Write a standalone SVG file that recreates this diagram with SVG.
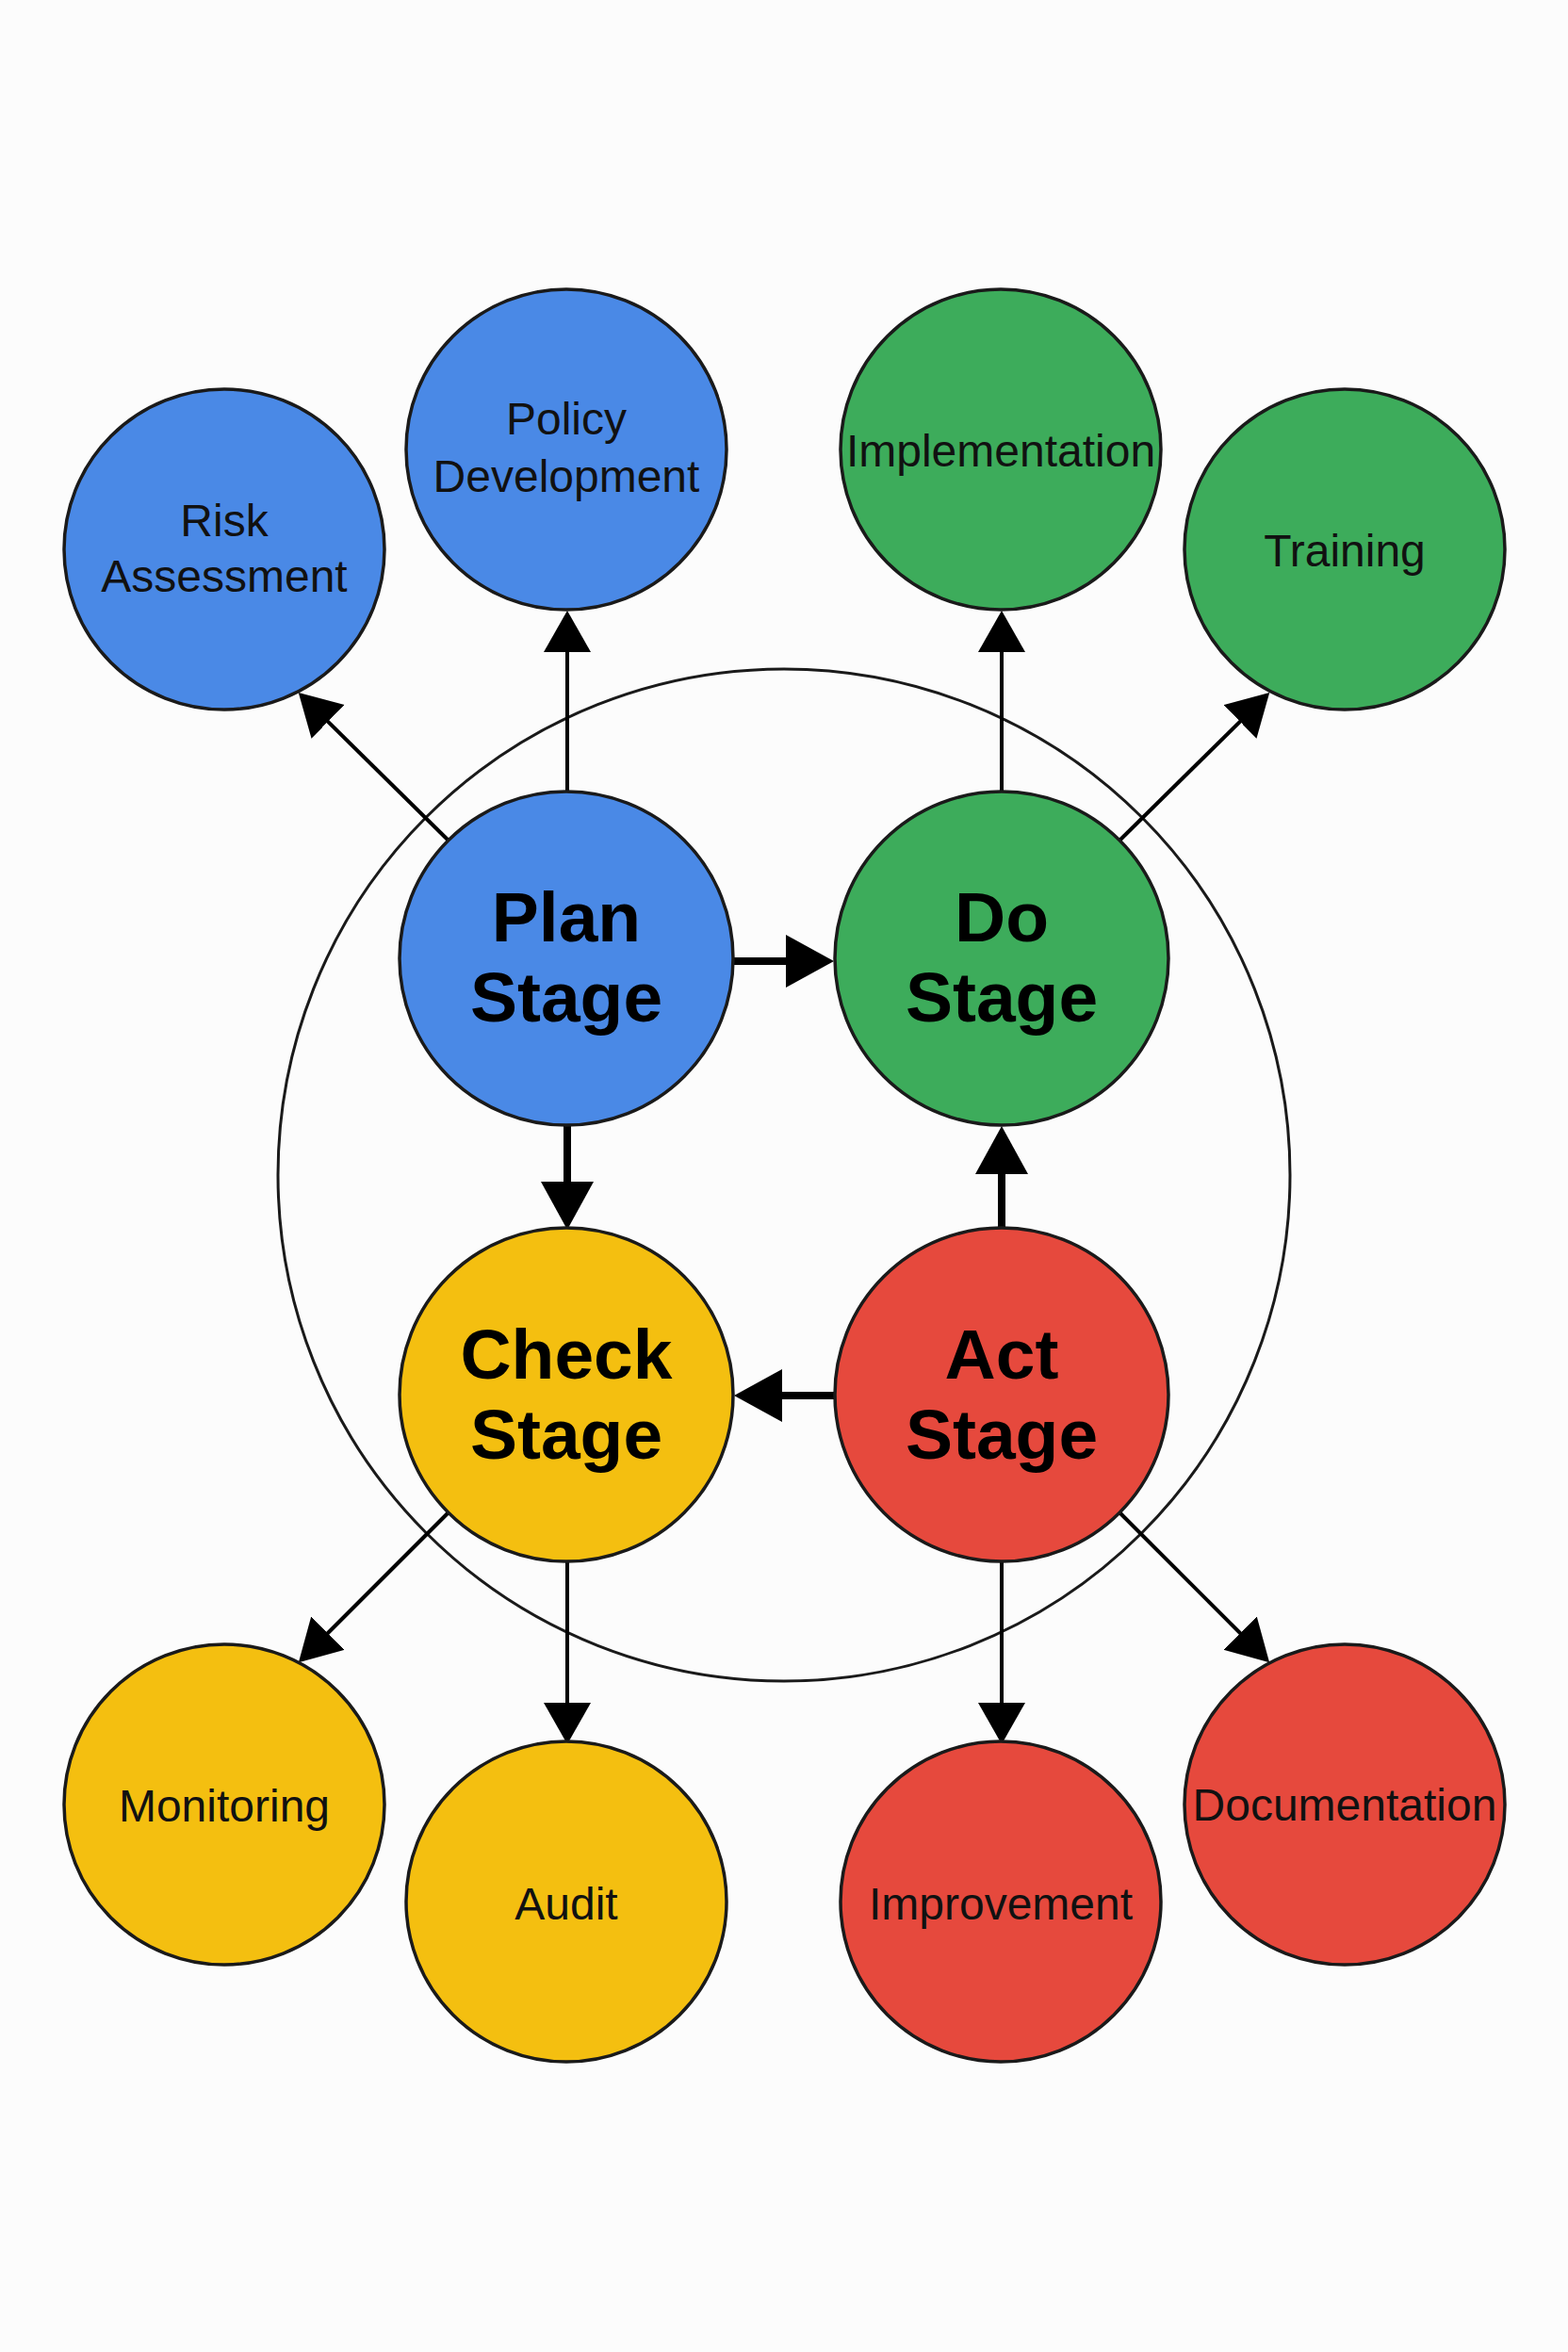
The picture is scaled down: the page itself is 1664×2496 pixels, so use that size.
<svg xmlns="http://www.w3.org/2000/svg" width="1664" height="2496" viewBox="0 0 1664 2496">
  <defs>
    <style>
      .node { stroke: #1a1a1a; stroke-width: 3.5; }
      .plan { fill: #4a89e6; }
      .do { fill: #3dac5b; }
      .check { fill: #f4bf10; }
      .act { fill: #e6493d; }
      .ring { fill: none; stroke: #1a1a1a; stroke-width: 3; }
      .edge { stroke: #000; stroke-width: 4; fill: none; }
      .edge-main { stroke: #000; stroke-width: 8; fill: none; }
      .label { font-family: "Liberation Sans", Arial, sans-serif; font-size: 48px; fill: #111; text-anchor: middle; }
      .stage { font-family: "Liberation Sans", Arial, sans-serif; font-size: 75px; font-weight: bold; fill: #000; text-anchor: middle; }
    </style>
    <marker id="head" markerUnits="userSpaceOnUse" markerWidth="46" markerHeight="52" refX="24" refY="25" orient="auto">
      <path d="M0,0 L44,25 L0,50 z" fill="#000"/>
    </marker>
    <marker id="head-main" markerUnits="userSpaceOnUse" markerWidth="53" markerHeight="58" refX="26" refY="28" orient="auto">
      <path d="M0,0 L51,28 L0,56 z" fill="#000"/>
    </marker>
  </defs>

  <rect width="1664" height="2496" fill="#fcfcfc"/>

  <!-- cycle ring behind the four stages -->
  <circle class="ring" cx="832" cy="1247" r="537"/>

  <g id="connectors">
    <!-- stage cycle -->
    <line class="edge-main" x1="779" y1="1020" x2="860" y2="1020" marker-end="url(#head-main)"/>
    <line class="edge-main" x1="602" y1="1194" x2="602" y2="1280" marker-end="url(#head-main)"/>
    <line class="edge-main" x1="1063" y1="1304" x2="1063" y2="1220" marker-end="url(#head-main)"/>
    <line class="edge-main" x1="885" y1="1481" x2="804" y2="1481" marker-end="url(#head-main)"/>
    <!-- plan outputs -->
    <line class="edge" x1="476" y1="892" x2="331" y2="749" marker-end="url(#head)"/>
    <line class="edge" x1="602" y1="840" x2="602" y2="668" marker-end="url(#head)"/>
    <!-- do outputs -->
    <line class="edge" x1="1063" y1="840" x2="1063" y2="668" marker-end="url(#head)"/>
    <line class="edge" x1="1188" y1="892" x2="1333" y2="749" marker-end="url(#head)"/>
    <!-- check outputs -->
    <line class="edge" x1="476" y1="1605" x2="331" y2="1750" marker-end="url(#head)"/>
    <line class="edge" x1="602" y1="1657" x2="602" y2="1831" marker-end="url(#head)"/>
    <!-- act outputs -->
    <line class="edge" x1="1063" y1="1657" x2="1063" y2="1831" marker-end="url(#head)"/>
    <line class="edge" x1="1188" y1="1605" x2="1333" y2="1750" marker-end="url(#head)"/>
  </g>

  <g id="plan-stage">
    <circle class="node plan" cx="601" cy="1017" r="177"/>
    <text class="stage" x="601" y="999">Plan</text>
    <text class="stage" x="601" y="1084">Stage</text>
  </g>
  <g id="do-stage">
    <circle class="node do" cx="1063" cy="1017" r="177"/>
    <text class="stage" x="1063" y="999">Do</text>
    <text class="stage" x="1063" y="1084">Stage</text>
  </g>
  <g id="check-stage">
    <circle class="node check" cx="601" cy="1480" r="177"/>
    <text class="stage" x="601" y="1463">Check</text>
    <text class="stage" x="601" y="1548">Stage</text>
  </g>
  <g id="act-stage">
    <circle class="node act" cx="1063" cy="1480" r="177"/>
    <text class="stage" x="1063" y="1463">Act</text>
    <text class="stage" x="1063" y="1548">Stage</text>
  </g>

  <g id="risk-assessment">
    <circle class="node plan" cx="238" cy="583" r="170"/>
    <text class="label" x="238" y="569">Risk</text>
    <text class="label" x="238" y="628">Assessment</text>
  </g>
  <g id="policy-development">
    <circle class="node plan" cx="601" cy="477" r="170"/>
    <text class="label" x="601" y="461">Policy</text>
    <text class="label" x="601" y="522">Development</text>
  </g>
  <g id="implementation">
    <circle class="node do" cx="1062" cy="477" r="170"/>
    <text class="label" x="1062" y="495">Implementation</text>
  </g>
  <g id="training">
    <circle class="node do" cx="1427" cy="583" r="170"/>
    <text class="label" x="1427" y="601">Training</text>
  </g>
  <g id="monitoring">
    <circle class="node check" cx="238" cy="1915" r="170"/>
    <text class="label" x="238" y="1933">Monitoring</text>
  </g>
  <g id="audit">
    <circle class="node check" cx="601" cy="2018" r="170"/>
    <text class="label" x="601" y="2037">Audit</text>
  </g>
  <g id="improvement">
    <circle class="node act" cx="1062" cy="2018" r="170"/>
    <text class="label" x="1062" y="2037">Improvement</text>
  </g>
  <g id="documentation">
    <circle class="node act" cx="1427" cy="1915" r="170"/>
    <text class="label" x="1427" y="1932">Documentation</text>
  </g>
</svg>
